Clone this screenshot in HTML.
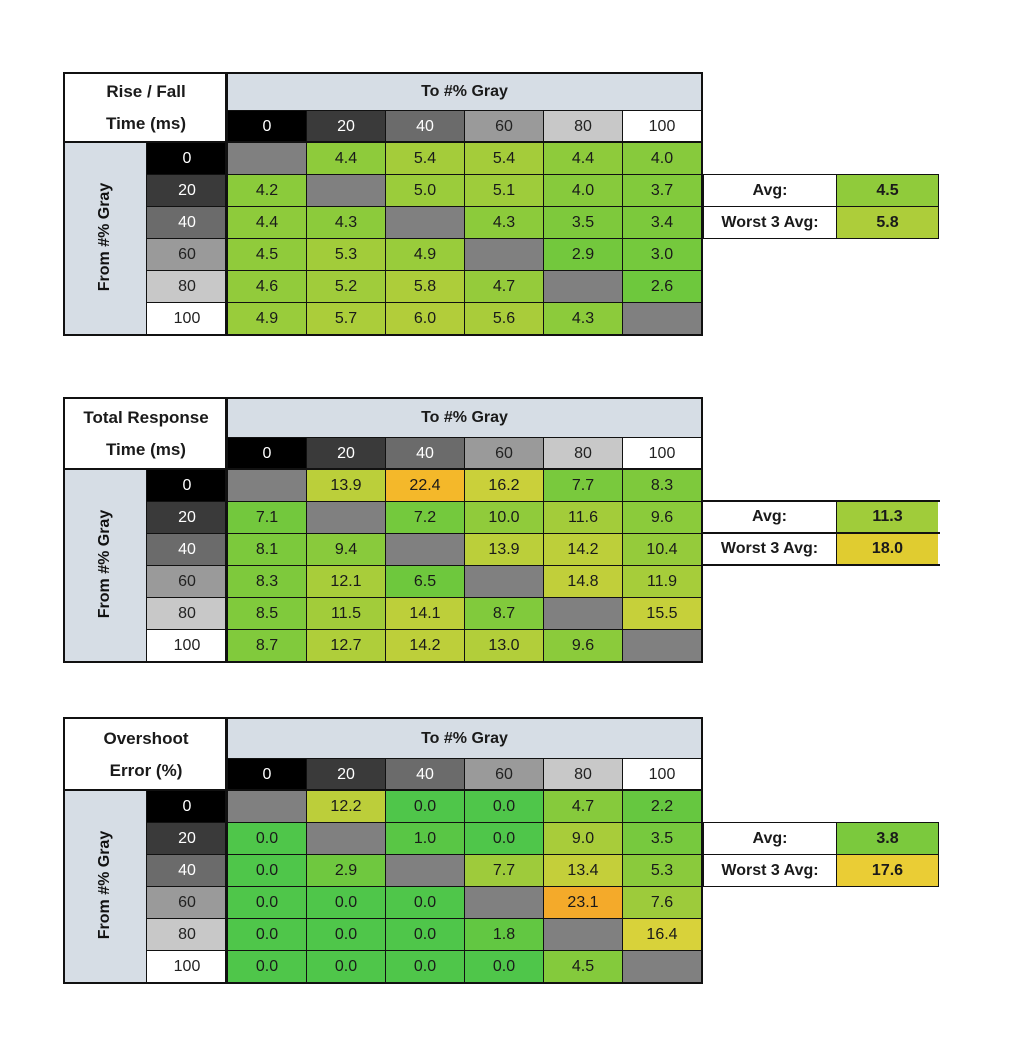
<!DOCTYPE html>
<html><head><meta charset="utf-8">
<style>
body{margin:0;background:#fff;width:1009px;height:1047px;position:relative;overflow:hidden;font-family:"Liberation Sans",sans-serif;}
.c{position:absolute;box-sizing:border-box;border:1px solid #111;display:flex;align-items:center;justify-content:center;font-size:16px;color:#1a1a1a;}
.o{position:absolute;box-sizing:border-box;border:2.5px solid #111;pointer-events:none;}
.b{font-weight:bold;}
.rot{position:absolute;transform:rotate(-90deg);font-weight:bold;font-size:16px;color:#111;white-space:nowrap;}
</style></head><body>
<script>
function hex(h){return [parseInt(h.substr(1,2),16),parseInt(h.substr(3,2),16),parseInt(h.substr(5,2),16)];}
function col(v,stops){
 if(v<=stops[0][0])return stops[0][1];
 for(let i=1;i<stops.length;i++){if(v<=stops[i][0]){let a=stops[i-1],b=stops[i];let t=(v-a[0])/(b[0]-a[0]);let A=hex(a[1]),B=hex(b[1]);return 'rgb('+A.map((x,k)=>Math.round(x+(B[k]-x)*t)).join(',')+')';}}
 return stops[stops.length-1][1];}
const hdr=[['#000','#fff'],['#3a3a3a','#fff'],['#6b6b6b','#fff'],['#9a9a9a','#222'],['#c8c8c8','#222'],['#fff','#222']];
const labs=['0','20','40','60','80','100'];
let H='';
function cell(x,y,w,h,bg,txt,cls,fg){H+=`<div class="c ${cls||''}" style="left:${x}px;top:${y}px;width:${w+1}px;height:${h+1}px;background:${bg};${fg?'color:'+fg+';':''}">${txt}</div>`;}
function table(top,h1,t1,t2,data,stops,avgTop,avg,w3,lineStyle){
 const X=[64,146,227,306,385,464,543,622,701];
 const rh=32;const rowTop=top+h1+32;
 cell(64,top,163,h1+32,'#fff',`<div style="text-align:center;line-height:32px;font-weight:bold;font-size:17px">${t1}<br>${t2}</div>`,'');
 cell(227,top,474,h1,'#d6dde5','To #% Gray','b');
 for(let j=0;j<6;j++)cell(X[j+2],top+h1,X[j+3]-X[j+2],32,hdr[j][0],labs[j],'',hdr[j][1]);
 cell(64,rowTop,82,rh*6,'#d6dde5','','');
 H+=`<div class="rot" style="left:${105-60}px;top:${rowTop+rh*3-10}px;width:120px;text-align:center">From #% Gray</div>`;
 for(let i=0;i<6;i++){
  cell(146,rowTop+i*rh,81,rh,hdr[i][0],labs[i],'',hdr[i][1]);
  for(let j=0;j<6;j++){let v=data[i][j];
   if(v===null)cell(X[j+2],rowTop+i*rh,X[j+3]-X[j+2],rh,'#808080','');
   else cell(X[j+2],rowTop+i*rh,X[j+3]-X[j+2],rh,col(v,stops),v.toFixed(1));}
 }
 H+=`<div class="o" style="left:63px;top:${top-1}px;width:640px;height:${h1+32+rh*6+3}px"></div>`;
 H+=`<div class="o" style="left:225px;top:${top-1}px;width:2px;height:${h1+32+rh*6+2}px;border-width:0 0 0 2px"></div>`;
 H+=`<div class="o" style="left:63px;top:${rowTop-1}px;width:640px;height:2px;border-width:2px 0 0 0"></div>`;
 if(lineStyle){
  cell(703,avgTop,133,32,'#fff','Avg:','b');cell(836,avgTop,102,32,col(avg,stops),avg.toFixed(1),'b');
  cell(703,avgTop+32,133,32,'#fff','Worst 3 Avg:','b');cell(836,avgTop+32,102,32,col(w3,stops),w3.toFixed(1),'b');
 } else {
  H+=`<div style="position:absolute;left:703px;top:${avgTop}px;width:236px;height:64px;background:#fff"></div>`;
  H+=`<div class="c b" style="left:703px;top:${avgTop}px;width:133px;height:32px;border:0;background:#fff">Avg:</div>`;
  H+=`<div class="c b" style="left:836px;top:${avgTop}px;width:102px;height:32px;border:0;border-left:1px solid #111;background:${col(avg,stops)}">${avg.toFixed(1)}</div>`;
  H+=`<div class="c b" style="left:703px;top:${avgTop+32}px;width:133px;height:32px;border:0;background:#fff">Worst 3 Avg:</div>`;
  H+=`<div class="c b" style="left:836px;top:${avgTop+32}px;width:102px;height:32px;border:0;border-left:1px solid #111;background:${col(w3,stops)}">${w3.toFixed(1)}</div>`;
  for(let k=0;k<3;k++)H+=`<div style="position:absolute;left:701px;top:${avgTop+k*32-1}px;width:239px;height:2px;background:#111"></div>`;
 }
}
const N=null;
table(73,37,'Rise / Fall','Time (ms)',
 [[N,4.4,5.4,5.4,4.4,4.0],[4.2,N,5.0,5.1,4.0,3.7],[4.4,4.3,N,4.3,3.5,3.4],[4.5,5.3,4.9,N,2.9,3.0],[4.6,5.2,5.8,4.7,N,2.6],[4.9,5.7,6.0,5.6,4.3,N]],
 [[2.6,'#6ec83d'],[4.5,'#90cb3b'],[6.0,'#b2cd3a']],174,4.5,5.8,true);
table(398,39,'Total Response','Time (ms)',
 [[N,13.9,22.4,16.2,7.7,8.3],[7.1,N,7.2,10.0,11.6,9.6],[8.1,9.4,N,13.9,14.2,10.4],[8.3,12.1,6.5,N,14.8,11.9],[8.5,11.5,14.1,8.7,N,15.5],[8.7,12.7,14.2,13.0,9.6,N]],
 [[6.5,'#6ec83d'],[9,'#84ca3c'],[11.3,'#a0cc3a'],[14,'#bccf3a'],[16.2,'#cad03a'],[18,'#e0cc30'],[22.4,'#f4b82a']],501,11.3,18.0,false);
table(718,40,'Overshoot','Error (%)',
 [[N,12.2,0.0,0.0,4.7,2.2],[0.0,N,1.0,0.0,9.0,3.5],[0.0,2.9,N,7.7,13.4,5.3],[0.0,0.0,0.0,N,23.1,7.6],[0.0,0.0,0.0,1.8,N,16.4],[0.0,0.0,0.0,0.0,4.5,N]],
 [[0,'#4fc64a'],[2.2,'#66c740'],[4.5,'#84ca3c'],[9,'#a8cc3a'],[13.4,'#c4cf3a'],[16.4,'#d8d23a'],[17.6,'#eacd35'],[23.1,'#f4aa2a']],822,3.8,17.6,true);
document.body.insertAdjacentHTML('beforeend',H);
</script>
</body></html>
